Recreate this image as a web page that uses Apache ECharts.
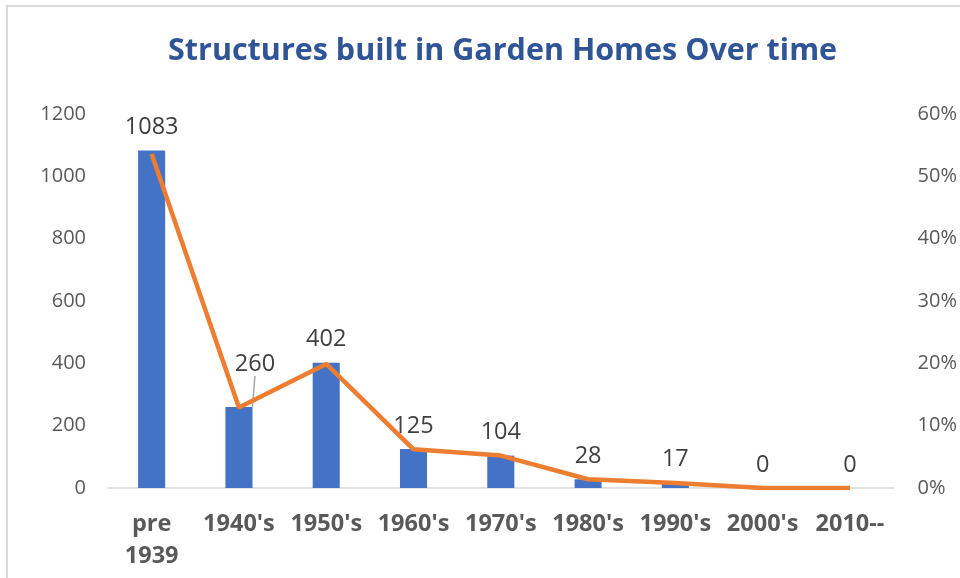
<!DOCTYPE html>
<html><head><meta charset="utf-8">
<script src="https://cdn.jsdelivr.net/npm/echarts@6/dist/echarts.min.js"></script>
<style>html,body{margin:0;padding:0;background:#fff}#c{width:960px;height:578px}</style>
</head><body><div id="c"></div>
<script>
const categories = ["pre\n1939","1940's","1950's","1960's","1970's","1980's","1990's","2000's","2010--"];
const counts = [1083,260,402,125,104,28,17,0,0];
const shares = [0.536,0.129,0.199,0.062,0.052,0.014,0.008,0,0];
const leftTicks = [0,1200,200];
const rightTicks = [0,0.6,0.1];

const chart = echarts.init(document.getElementById('c'));
const font = "'Open Sans', 'Liberation Sans', sans-serif";
const barData = counts.map((v,i)=> i===1
  ? {value:v,labelLine:{show:true,lineStyle:{color:'#a6a6a6',width:1.5}}}
  : v);
chart.setOption({
  animation:false,
  backgroundColor:'#fff',
  title:{text:'Structures built in Garden Homes Over time',left:163,top:31,
    textStyle:{fontFamily:font,fontWeight:'bold',fontSize:30.5,color:'#2F5597'}},
  graphic:[{type:'rect',shape:{x:7,y:6,width:1000,height:700},style:{fill:'none',stroke:'#d9d9d9',lineWidth:2},silent:true}],
  grid:{left:108,right:62,top:114,bottom:90},
  xAxis:{type:'category',data:categories,
    axisLine:{lineStyle:{color:'#d9d9d9',width:1.5}},axisTick:{show:false},
    axisLabel:{fontFamily:font,fontWeight:'bold',fontSize:23.5,color:'#595959',margin:20,lineHeight:32,interval:0}},
  yAxis:[
    {type:'value',min:leftTicks[0],max:leftTicks[1],interval:leftTicks[2],splitLine:{show:false},
      axisLabel:{fontFamily:font,fontSize:20,color:'#595959',margin:22,formatter:v=>String(v)}},
    {type:'value',min:rightTicks[0],max:rightTicks[1],interval:rightTicks[2],splitLine:{show:false},
      axisLabel:{fontFamily:font,fontSize:20,color:'#595959',margin:24,
        formatter:v=>Math.round(v*100)+'%'}}
  ],
  series:[
    {type:'bar',data:barData,barWidth:'31%',itemStyle:{color:'#4472C4'},
      label:{show:true,position:'top',distance:11,fontFamily:font,fontSize:23.5,color:'#404040'},
      labelLayout:function(p){ return p.dataIndex===1 ? {dy:-20, dx:16} : {}; },
      labelLine:{show:false}},
    {type:'line',yAxisIndex:1,data:shares,symbol:'none',z:5,
      lineStyle:{color:'#ED7D31',width:4.5}}
  ]
});
</script></body></html>
